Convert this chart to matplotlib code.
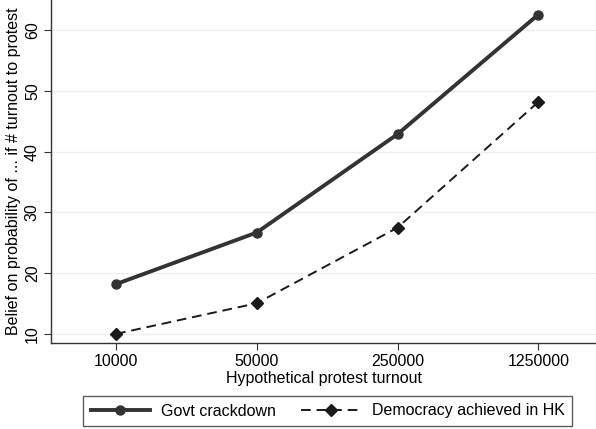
import matplotlib
matplotlib.use("Agg")
import matplotlib.pyplot as plt
import numpy as np

plt.rcParams['font.family'] = ['Liberation Sans', 'DejaVu Sans']

turnout = ["10000", "50000", "250000", "1250000"]
crackdown = [18.2, 26.7, 42.9, 62.6]
democracy = [10.0, 15.05, 27.5, 48.2]
yticks = [10, 20, 30, 40, 50, 60]

fig = plt.figure(figsize=(5.96, 4.29), dpi=100)
ax = fig.add_axes([51/596, 1 - 343/429, 545/596, 343/429])

x = np.arange(len(turnout))
ax.plot(x, crackdown, color="#333333", lw=2.8, marker="o", ms=6.5,
        label="Govt crackdown")
ax.plot(x, democracy, color="#1a1a1a", lw=1.4, ls=(0, (5, 3)), marker="D",
        ms=6, label="Democracy achieved in HK")

ax.set_xlim(-0.462, 3.41)
ax.set_ylim(8.5, 65)
ax.set_xticks(x)
ax.set_xticklabels(turnout)
ax.set_yticks(yticks)
ax.set_yticklabels([str(v) for v in yticks], rotation=90, va="center")
ax.tick_params(labelsize=11.5, length=5, color="#333333", pad=3)
ax.grid(axis="y", color="#eeeeee", lw=0.9)
ax.set_axisbelow(True)
for s in ["top", "right"]:
    ax.spines[s].set_visible(False)
for s in ["left", "bottom"]:
    ax.spines[s].set_color("#333333")
    ax.spines[s].set_linewidth(1.0)

ax.set_xlabel("Hypothetical protest turnout", fontsize=11.5, labelpad=1)
ax.set_ylabel("Belief on probability of ... if # turnout to protest",
              fontsize=11.5, labelpad=3)

fig.legend(loc="center", bbox_to_anchor=(327.5/596, 1 - 411/429), ncol=2,
           fontsize=11.5, frameon=True, fancybox=False, edgecolor="#333333",
           handlelength=3.7, handletextpad=0.7, columnspacing=1.6,
           borderpad=0.45)

fig.savefig("out.png", dpi=100)
